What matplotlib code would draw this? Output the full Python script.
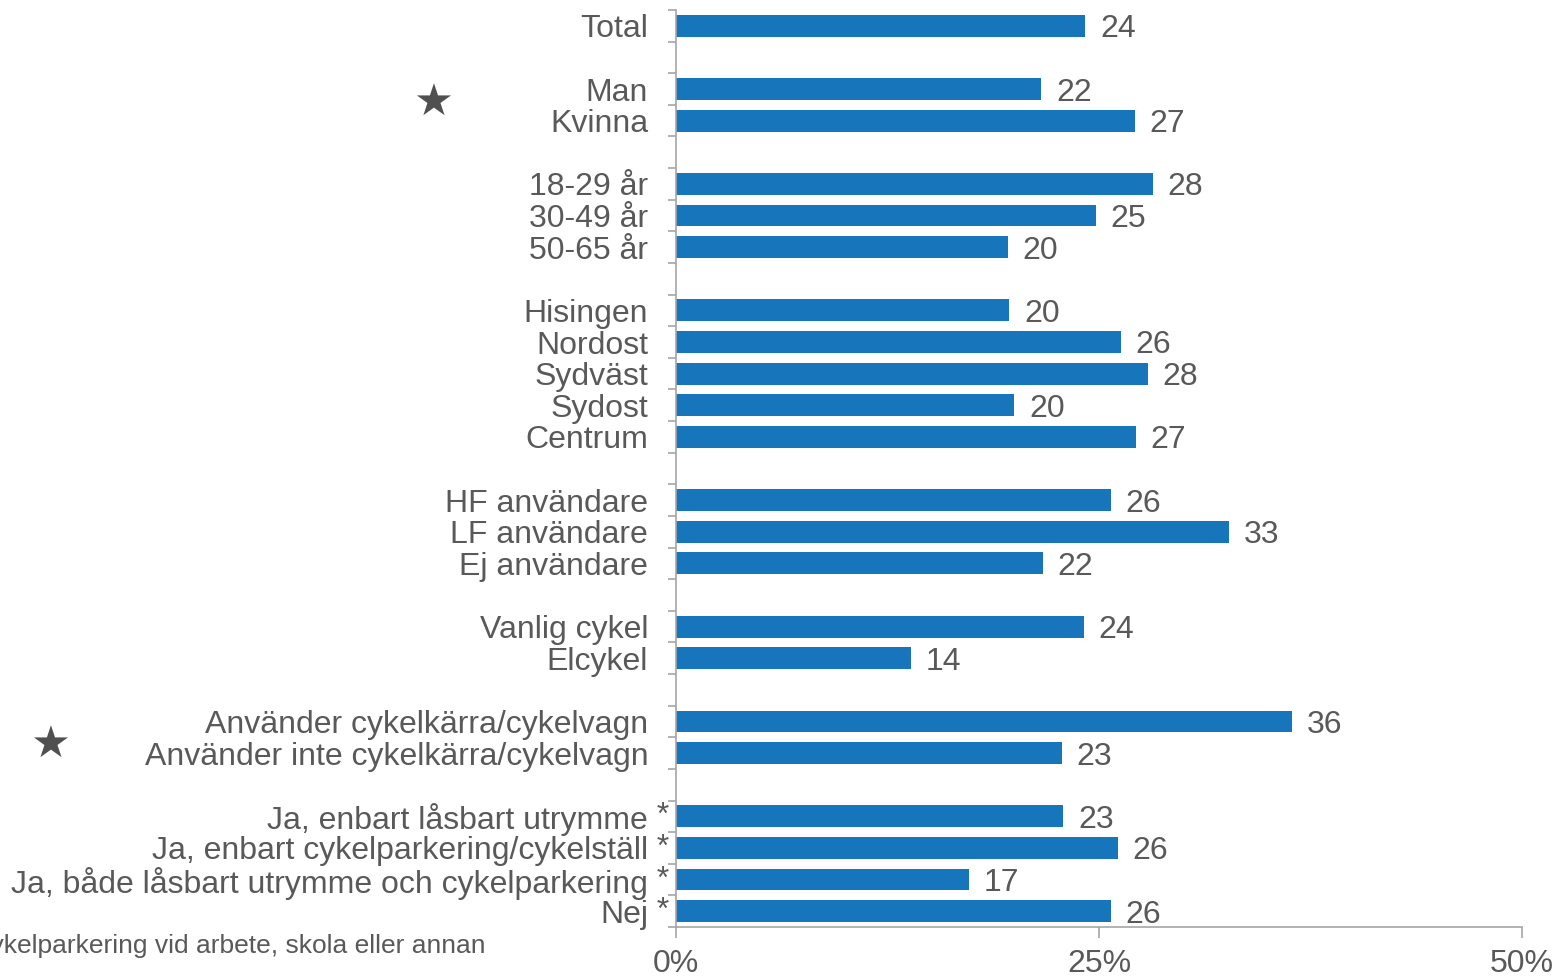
import numpy as np
import matplotlib
matplotlib.use('Agg')
import matplotlib.pyplot as plt

plt.rcParams['font.family'] = ['Liberation Sans', 'DejaVu Sans']

# data (None = empty row between groups)
kategorier = ['Total', None,
              'Man', 'Kvinna', None,
              '18-29 år', '30-49 år', '50-65 år', None,
              'Hisingen', 'Nordost', 'Sydväst', 'Sydost', 'Centrum', None,
              'HF användare', 'LF användare', 'Ej användare', None,
              'Vanlig cykel', 'Elcykel', None,
              'Använder cykelkärra/cykelvagn', 'Använder inte cykelkärra/cykelvagn', None,
              'Ja, enbart låsbart utrymme', 'Ja, enbart cykelparkering/cykelställ',
              'Ja, både låsbart utrymme och cykelparkering', 'Nej']
varden = [24.2, None,
          21.6, 27.1, None,
          28.2, 24.8, 19.6, None,
          19.7, 26.3, 27.9, 20.0, 27.2, None,
          25.7, 32.7, 21.7, None,
          24.1, 13.9, None,
          36.4, 22.8, None,
          22.9, 26.1, 17.3, 25.7]
asterisk = [False] * 25 + [True] * 4

blue = '#1775bb'
grey = '#595959'
axcol = '#a6a6a6'
fs = 23

fig = plt.figure(figsize=(15.57, 9.77), dpi=100)
ax = fig.add_axes([676 / 1557, 50 / 977, 846 / 1557, 917 / 977])

pos = [i for i, v in enumerate(varden) if v is not None]
vals = [varden[i] for i in pos]
labs = [kategorier[i] for i in pos]

ax.barh(pos, vals, height=0.69, color=blue)
for p, v in zip(pos, vals):
    ax.annotate(f'{v:.0f}', (v, p), xytext=(10.5, -2.5), textcoords='offset points',
                va='center', ha='left', fontsize=fs, color=grey)

n = len(kategorier)
ax.set_ylim(n - 0.5, -0.5)
ax.set_xlim(0, 50)

ax.set_yticks(pos)
ax.set_yticklabels(labs, fontsize=fs, color=grey)
ax.set_yticks(np.arange(-0.5, n, 1), minor=True)
ax.tick_params(axis='y', which='major', length=0, pad=20)
ax.tick_params(axis='y', which='minor', length=6, width=1.2, color=axcol, direction='out')

for p in pos:
    if asterisk[p]:
        ax.text(-0.0331, p, ' *', transform=ax.get_yaxis_transform(),
                ha='left', va='center', fontsize=fs, color=grey)

ax.set_xticks([0, 25, 50])
ax.set_xticklabels(['0%', '25%', '50%'], fontsize=fs, color=grey)
ax.tick_params(axis='x', length=8, width=1.2, color=axcol, pad=8)

for s in ['top', 'right']:
    ax.spines[s].set_visible(False)
for s in ['left', 'bottom']:
    ax.spines[s].set_color(axcol)
    ax.spines[s].set_linewidth(1.2)

# stjärnor för signifikanta skillnader
fig.text(433 / 1557, 1 - 103 / 977, '★', ha='center', va='center',
         fontsize=32, color='#505050', family='DejaVu Sans')
fig.text(50 / 1557, 1 - 745 / 977, '★', ha='center', va='center',
         fontsize=32, color='#505050', family='DejaVu Sans')

fig.text(485 / 1557, 1 - 945 / 977, 'Tillgång till cykelparkering vid arbete, skola eller annan',
         ha='right', va='center', fontsize=19, color=grey)

fig.savefig('out.png', dpi=100)
